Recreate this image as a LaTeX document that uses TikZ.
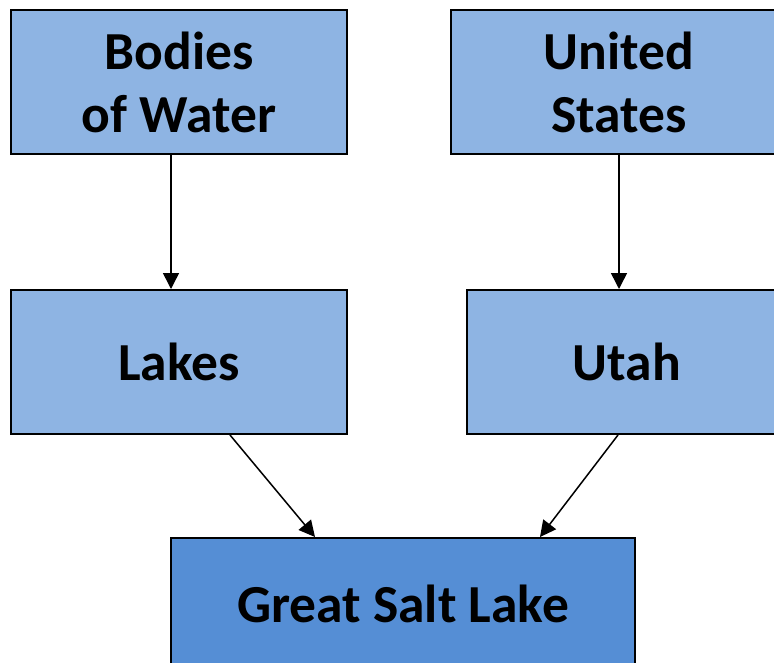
\documentclass[tikz,border=0pt]{standalone}
\usepackage{fontspec}
\setmainfont{Carlito}
\usetikzlibrary{arrows.meta}
\definecolor{boxlight}{HTML}{8EB4E3}
\definecolor{boxdark}{HTML}{558ED5}
\tikzset{
  box/.style={draw=black, line width=2pt, fill=boxlight, rectangle,
    minimum height=144pt, inner sep=0pt, align=center,
    font=\fontsize{53.5}{63}\selectfont\bfseries},
  darkbox/.style={box, fill=boxdark, minimum height=132pt},
  link/.style={line width=1.5pt, -{Triangle[width=16pt,length=16pt]}}
}
\begin{document}
\begin{tikzpicture}[x=1pt, y=-1pt]
  \useasboundingbox (0,0) rectangle (774,662);
  \fill[white] (0,0) rectangle (774,662);
  \clip (0,0) rectangle (774,662);
  % top row
  \node[box, minimum width=336pt] (water) at (179,82) {Bodies\\of Water};
  \node[box, minimum width=336pt] (us) at (619,82) {United\\States};
  % middle row
  \node[box, minimum width=336pt] (lakes) at (179,362) {Lakes};
  \node[box, minimum width=320pt] (utah) at (627,362) {Utah};
  % bottom
  \node[darkbox, minimum width=464pt] (gsl) at (403,604) {Great Salt Lake};
  % connectors
  \draw[link] ([xshift=-8pt]water.south) -- ([xshift=-8pt]lakes.north);
  \draw[link] (us.south) -- ([xshift=-8pt]utah.north);
  \draw[link] ([xshift=51pt]lakes.south) -- ([xshift=-88pt]gsl.north);
  \draw[link] ([xshift=-9pt]utah.south) -- ([xshift=137pt]gsl.north);
\end{tikzpicture}
\end{document}
